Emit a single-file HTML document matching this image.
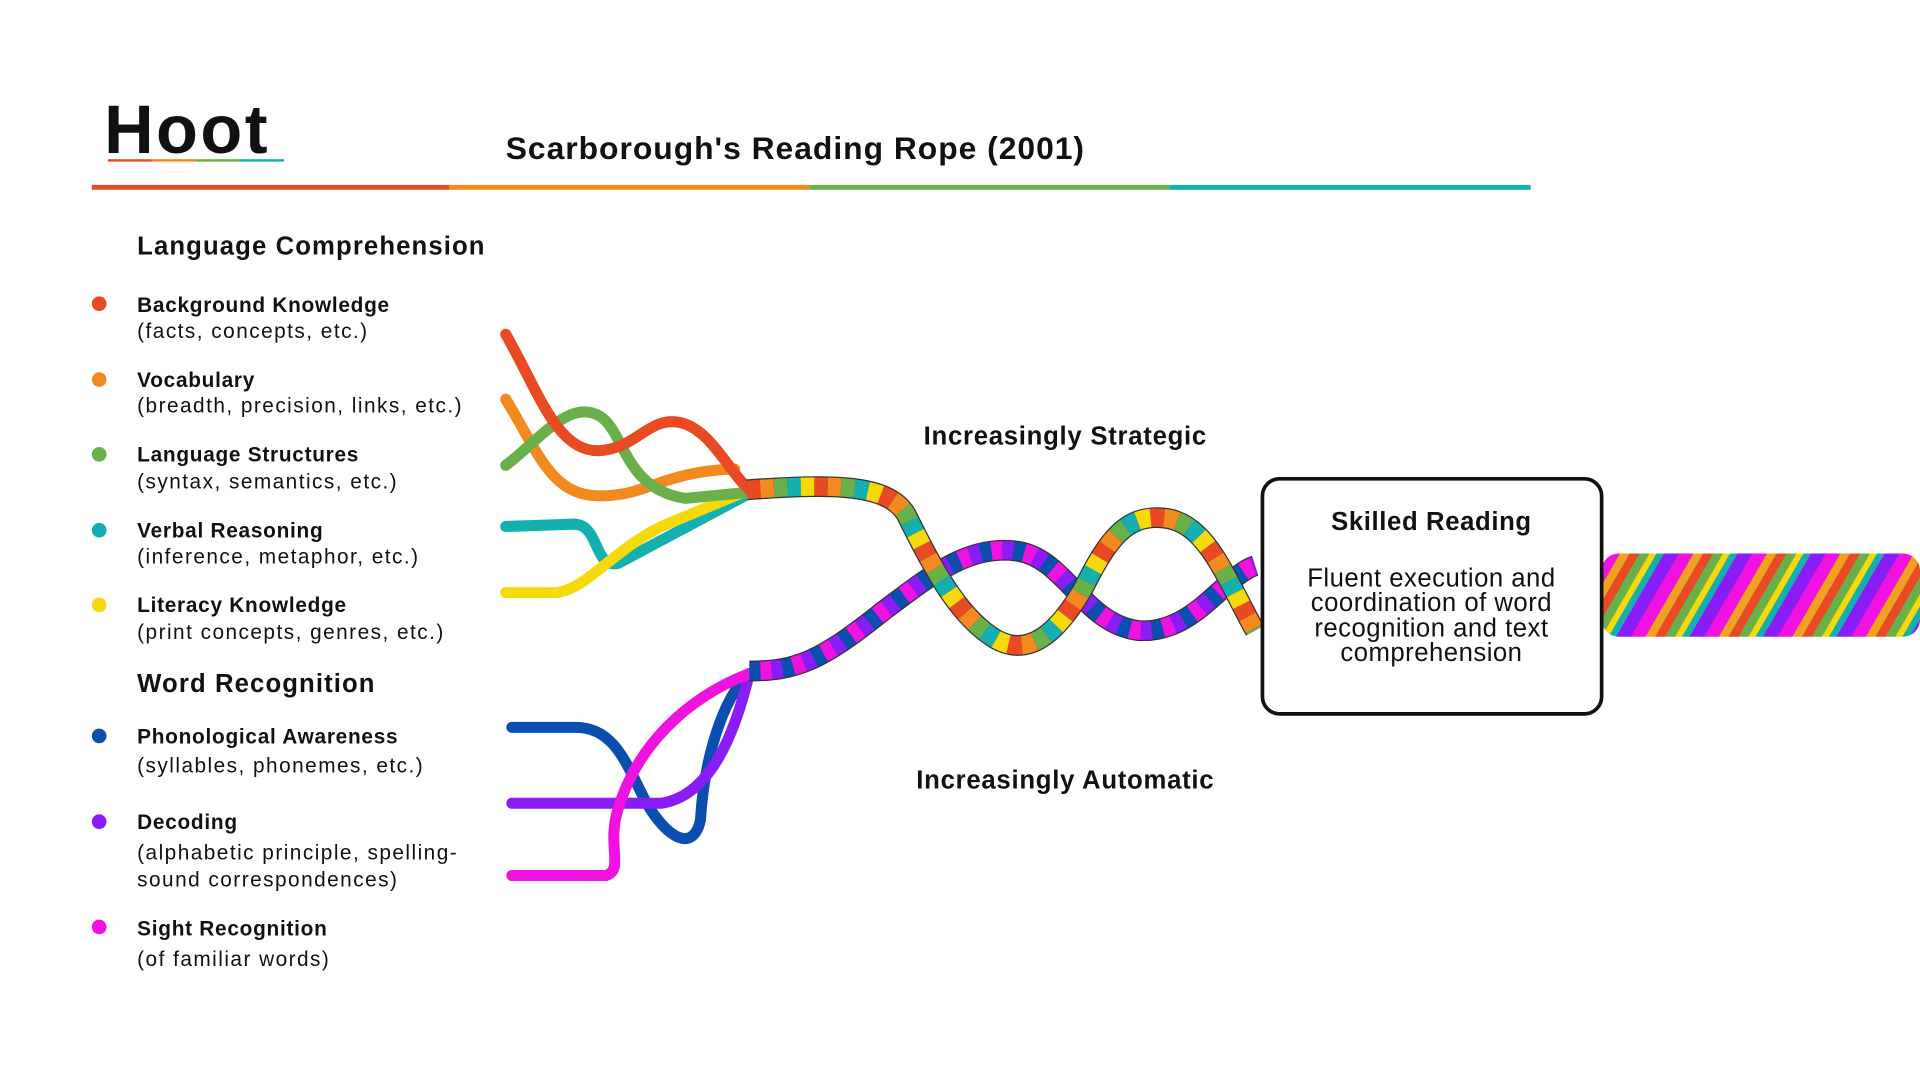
<!DOCTYPE html>
<html><head><meta charset="utf-8"><style>
html,body{margin:0;padding:0;background:#fff;width:1920px;height:1080px;overflow:hidden}
text{font-family:"Liberation Sans",sans-serif;fill:#111}
</style></head><body>
<svg width="1920" height="1080" viewBox="0 0 1568 882" xmlns="http://www.w3.org/2000/svg">
<defs>
<pattern id="braid" width="60" height="74" patternUnits="userSpaceOnUse" patternTransform="skewX(-30)">
<rect width="60" height="74" fill="#0a4fb0"/>
<rect x="0" width="12" height="74" fill="#8a1cf5"/>
<rect x="12" width="12" height="74" fill="#f012e0"/>
<rect x="24" width="8" height="74" fill="#f2a11f"/>
<rect x="32" width="8" height="74" fill="#e94a24"/>
<rect x="40" width="8" height="74" fill="#6ab04a"/>
<rect x="48" width="6" height="74" fill="#f5d90a"/>
<rect x="54" width="6" height="74" fill="#14b0b0"/>
</pattern>
</defs>

<!-- Header -->
<text x="85" y="125" font-size="56" font-weight="bold" letter-spacing="2">Hoot</text>
<rect x="88" y="130" width="36" height="2" fill="#e94a24"/>
<rect x="124" y="130" width="36" height="2" fill="#f28a1f"/>
<rect x="160" y="130" width="36" height="2" fill="#6ab04a"/>
<rect x="196" y="130" width="36" height="2" fill="#14b0b0"/>
<text x="413" y="130" font-size="26" font-weight="bold" letter-spacing="0.8">Scarborough's Reading Rope (2001)</text>
<rect x="75" y="151" width="292" height="4" fill="#e94a24"/>
<rect x="367" y="151" width="294" height="4" fill="#f28a1f"/>
<rect x="661" y="151" width="294" height="4" fill="#6ab04a"/>
<rect x="955" y="151" width="295" height="4" fill="#14b0b0"/>

<!-- Legend -->
<text x="112" y="208" font-size="21" font-weight="bold" letter-spacing="0.9">Language Comprehension</text>
<g font-size="17">
<g font-weight="bold" letter-spacing="0.6">
<text x="112" y="255">Background Knowledge</text>
<text x="112" y="316">Vocabulary</text>
<text x="112" y="377">Language Structures</text>
<text x="112" y="439">Verbal Reasoning</text>
<text x="112" y="500">Literacy Knowledge</text>
</g>
<g letter-spacing="1.2">
<text x="112" y="276">(facts, concepts, etc.)</text>
<text x="112" y="337">(breadth, precision, links, etc.)</text>
<text x="112" y="399">(syntax, semantics, etc.)</text>
<text x="112" y="460">(inference, metaphor, etc.)</text>
<text x="112" y="522">(print concepts, genres, etc.)</text>
</g>
<circle cx="81" cy="248" r="6" fill="#e94a24"/>
<circle cx="81" cy="310" r="6" fill="#f28a1f"/>
<circle cx="81" cy="371" r="6" fill="#6ab04a"/>
<circle cx="81" cy="433" r="6" fill="#14b0b0"/>
<circle cx="81" cy="494" r="6" fill="#f5d90a"/>
</g>
<text x="112" y="565" font-size="21" font-weight="bold" letter-spacing="0.9">Word Recognition</text>
<g font-size="17">
<g font-weight="bold" letter-spacing="0.6">
<text x="112" y="607">Phonological Awareness</text>
<text x="112" y="677">Decoding</text>
<text x="112" y="764">Sight Recognition</text>
</g>
<g letter-spacing="1.2">
<text x="112" y="631">(syllables, phonemes, etc.)</text>
<text x="112" y="702">(alphabetic principle, spelling-</text><text x="112" y="724">sound correspondences)</text>
<text x="112" y="789">(of familiar words)</text>
</g>
<circle cx="81" cy="601" r="6" fill="#0a4fb0"/>
<circle cx="81" cy="671" r="6" fill="#8a1cf5"/>
<circle cx="81" cy="757" r="6" fill="#f012e0"/>
</g>

<!-- Loose strands -->
<g fill="none" stroke-width="9" stroke-linecap="round">
<path d="M413,430 L470,428 C490,430 485,465 505,460 L612,403" stroke="#14b0b0"/>
<path d="M413,484 L455,484 C480,480 500,450 540,430 L612,400" stroke="#f5d90a"/>
<path d="M413,326 C440,370 450,405 490,405 C530,405 540,385 600,383" stroke="#f28a1f"/>
<path d="M413,380 C440,360 465,325 490,340 C510,352 510,400 560,407 L612,402" stroke="#6ab04a"/>
<path d="M413,273 C440,320 455,370 490,368 C520,366 530,340 555,345 C580,350 595,385 612,400" stroke="#e94a24"/>
<path d="M418,594 L470,594 C500,594 510,620 525,650 C540,680 565,700 572,670 C575,620 590,570 612,550" stroke="#0a4fb0"/>
<path d="M418,656 L540,656 C580,650 600,600 612,550" stroke="#8a1cf5"/>
<path d="M418,715 L495,715 C510,710 495,690 505,660 C520,610 560,570 612,550" stroke="#f012e0"/>
</g>

<!-- Word rope (lower) -->
<g fill="none" stroke-linecap="butt">
<path d="M612,548 C650,548 670,540 720,500 C760,470 790,445 830,450 C870,455 885,510 930,515 C975,518 1000,470 1025,462" stroke="#333" stroke-width="17"/>
<path d="M612,548 C650,548 670,540 720,500 C760,470 790,445 830,450 C870,455 885,510 930,515 C975,518 1000,470 1025,462" stroke="#0a4fb0" stroke-width="15" stroke-dasharray="9 18"/>
<path d="M612,548 C650,548 670,540 720,500 C760,470 790,445 830,450 C870,455 885,510 930,515 C975,518 1000,470 1025,462" stroke="#8a1cf5" stroke-width="15" stroke-dasharray="9 18" stroke-dashoffset="9"/>
<path d="M612,548 C650,548 670,540 720,500 C760,470 790,445 830,450 C870,455 885,510 930,515 C975,518 1000,470 1025,462" stroke="#f012e0" stroke-width="15" stroke-dasharray="9 18" stroke-dashoffset="18"/>
</g>
<!-- Language rope (upper) -->
<g fill="none">
<path d="M610,400 C680,395 725,395 740,420 C760,460 780,500 810,520 C840,540 865,515 885,480 C905,440 920,420 950,423 C985,426 1000,470 1025,515" stroke="#333" stroke-width="17"/>
<path d="M610,400 C680,395 725,395 740,420 C760,460 780,500 810,520 C840,540 865,515 885,480 C905,440 920,420 950,423 C985,426 1000,470 1025,515" stroke="#e94a24" stroke-width="15" stroke-dasharray="11 44"/>
<path d="M610,400 C680,395 725,395 740,420 C760,460 780,500 810,520 C840,540 865,515 885,480 C905,440 920,420 950,423 C985,426 1000,470 1025,515" stroke="#f28a1f" stroke-width="15" stroke-dasharray="11 44" stroke-dashoffset="-11"/>
<path d="M610,400 C680,395 725,395 740,420 C760,460 780,500 810,520 C840,540 865,515 885,480 C905,440 920,420 950,423 C985,426 1000,470 1025,515" stroke="#6ab04a" stroke-width="15" stroke-dasharray="11 44" stroke-dashoffset="-22"/>
<path d="M610,400 C680,395 725,395 740,420 C760,460 780,500 810,520 C840,540 865,515 885,480 C905,440 920,420 950,423 C985,426 1000,470 1025,515" stroke="#14b0b0" stroke-width="15" stroke-dasharray="11 44" stroke-dashoffset="-33"/>
<path d="M610,400 C680,395 725,395 740,420 C760,460 780,500 810,520 C840,540 865,515 885,480 C905,440 920,420 950,423 C985,426 1000,470 1025,515" stroke="#f5d90a" stroke-width="15" stroke-dasharray="11 44" stroke-dashoffset="-44"/>
</g>

<text x="870" y="363" font-size="21" font-weight="bold" text-anchor="middle" letter-spacing="0.6">Increasingly Strategic</text>
<text x="870" y="644" font-size="21" font-weight="bold" text-anchor="middle" letter-spacing="0.6">Increasingly Automatic</text>

<!-- Right braid -->
<rect x="1308" y="452" width="260" height="68" rx="14" fill="url(#braid)"/>

<!-- Box -->
<rect x="1031" y="391" width="277" height="192" rx="14" fill="#fff" stroke="#111" stroke-width="3"/>
<text x="1169" y="433" font-size="21" font-weight="bold" text-anchor="middle" letter-spacing="0.5">Skilled Reading</text>
<g font-size="21" text-anchor="middle" letter-spacing="0.4">
<text x="1169" y="479">Fluent execution and</text>
<text x="1169" y="499">coordination of word</text>
<text x="1169" y="520">recognition and text</text>
<text x="1169" y="540">comprehension</text>
</g>
</svg>
</body></html>
